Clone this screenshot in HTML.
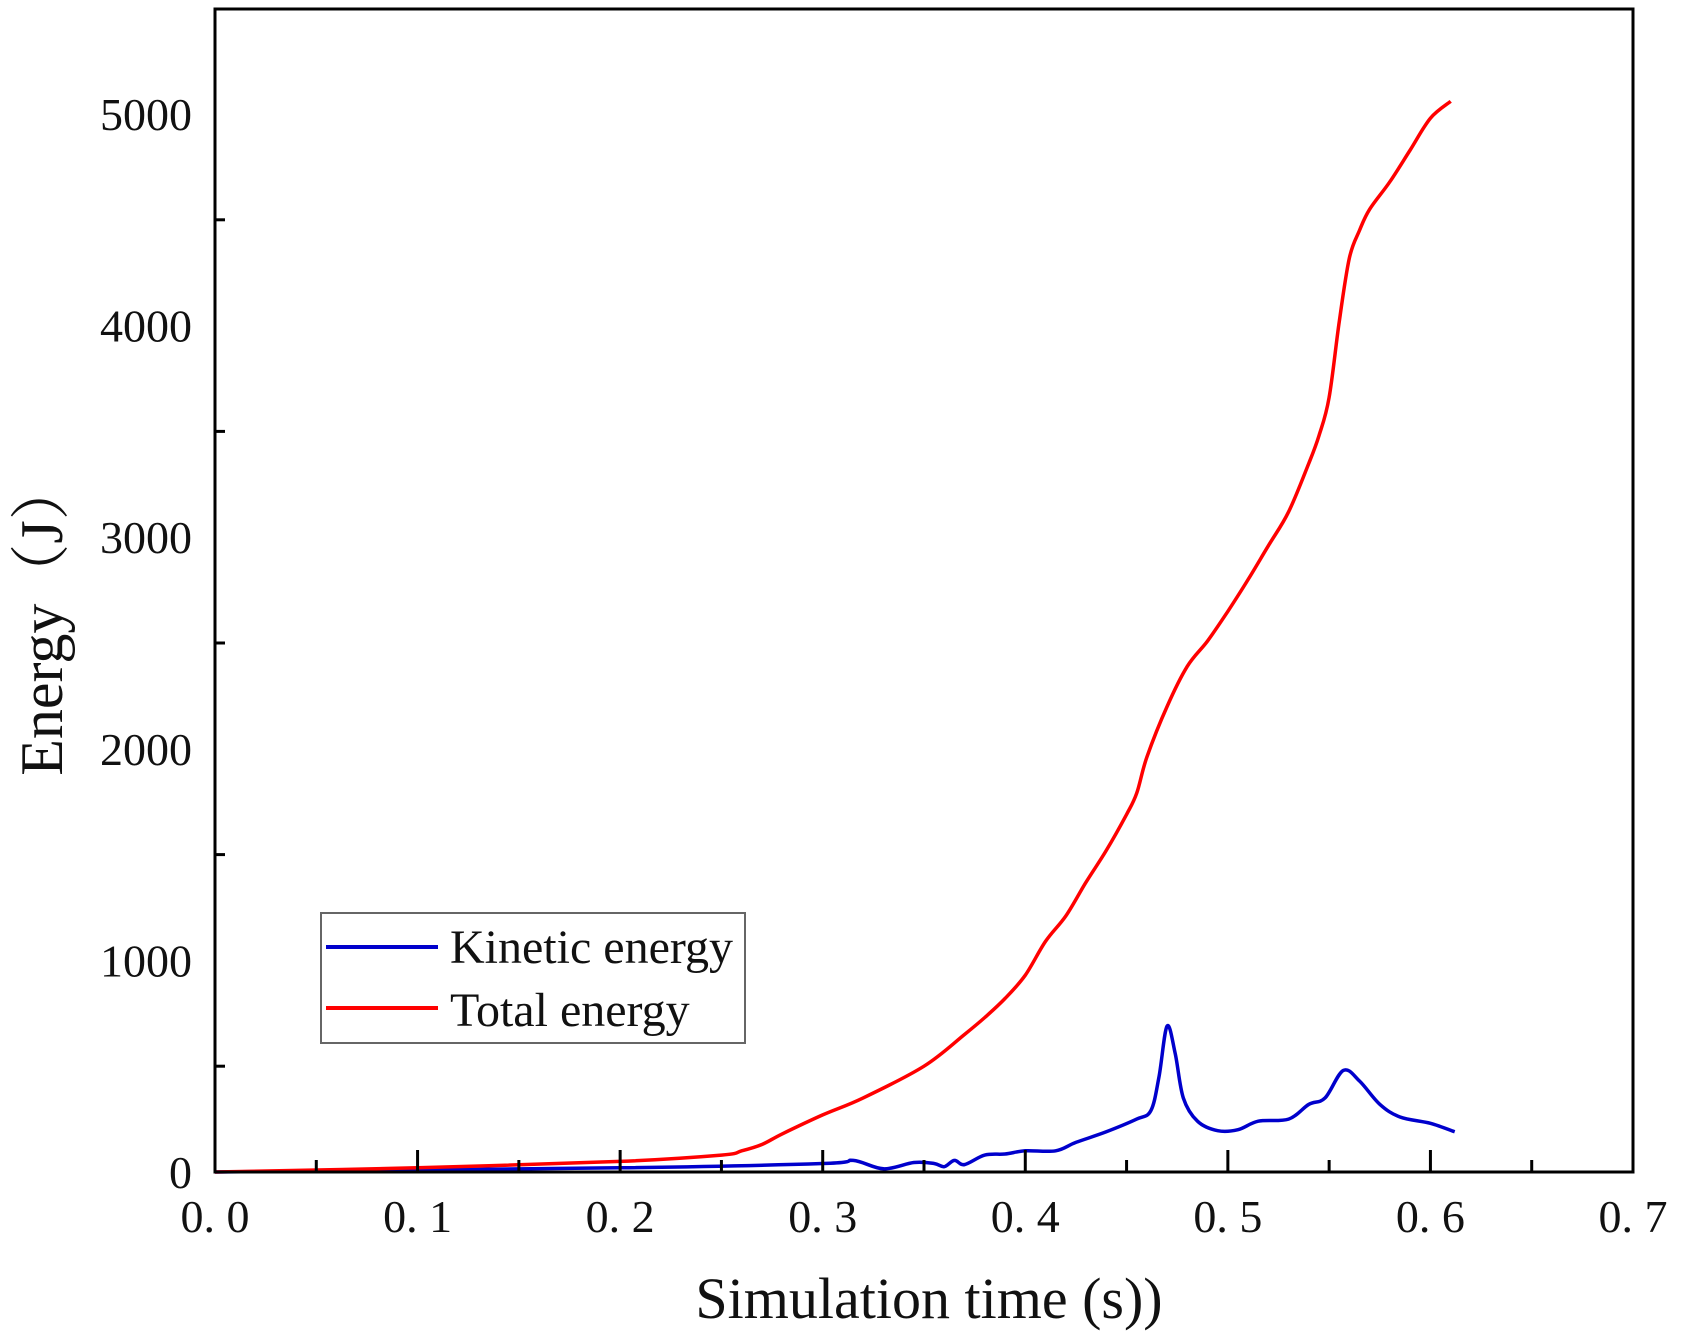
<!DOCTYPE html>
<html><head><meta charset="utf-8"><style>
html,body{margin:0;padding:0;background:#fff;}
svg{display:block;font-family:"Liberation Serif","Noto Serif CJK SC",serif;}
</style></head><body>
<svg id="chart" width="1682" height="1337" viewBox="0 0 1682 1337">
<rect x="0" y="0" width="1682" height="1337" fill="#fff"/>
<g id="marks"></g>
<g id="axes"></g>
<g>
<rect x="321" y="913" width="424" height="130" fill="#fff" stroke="#666" stroke-width="2"/>
<line x1="326" y1="947" x2="438" y2="947" stroke="#0000cc" stroke-width="4"/>
<text x="450" y="963" font-size="48" fill="#111">Kinetic energy</text>
<line x1="326" y1="1008" x2="438" y2="1008" stroke="#ff0000" stroke-width="4"/>
<text x="450" y="1026" font-size="48" fill="#111">Total energy</text>
</g>
<text x="929" y="1318" font-size="58" text-anchor="middle" fill="#111">Simulation time (s))</text>
<text transform="translate(62,618) rotate(-90)" font-size="60" text-anchor="middle" fill="#111">Energy（J）</text>
</svg>
<script>
const totalX = [0,0.1,0.2,0.25,0.26,0.27,0.28,0.3,0.32,0.35,0.37,0.38,0.39,0.4,0.41,0.42,0.43,0.44,0.45,0.455,0.46,0.47,0.48,0.49,0.5,0.51,0.52,0.53,0.54,0.545,0.55,0.555,0.56,0.565,0.57,0.58,0.59,0.6,0.61];
const totalY = [0,20,50,80,100,130,180,270,350,500,650,730,820,930,1090,1210,1370,1520,1690,1790,1960,2200,2390,2510,2650,2800,2960,3120,3350,3480,3660,4020,4320,4450,4550,4680,4830,4980,5060];
const kinX = [0,0.2,0.3,0.315,0.33,0.345,0.355,0.36,0.365,0.37,0.38,0.39,0.4,0.415,0.425,0.44,0.455,0.462,0.466,0.47,0.474,0.478,0.485,0.495,0.505,0.515,0.53,0.54,0.548,0.557,0.565,0.575,0.585,0.6,0.612];
const kinY = [0,20,40,55,15,45,40,25,55,35,80,85,100,100,140,190,250,290,450,690,560,350,240,195,200,240,250,320,350,480,430,320,260,230,190];
const xTicks = [0,0.1,0.2,0.3,0.4,0.5,0.6,0.7];
const xTickLabels = ["0. 0","0. 1","0. 2","0. 3","0. 4","0. 5","0. 6","0. 7"];
const yTicks = [0,1000,2000,3000,4000,5000];
const yTickLabels = ["0","1000","2000","3000","4000","5000"];

const X0=215, X1=1633, Y0=1172, Y5000=114;
function sx(v){return X0+(X1-X0)*v/0.7;}
function sy(v){return Y0+(Y5000-Y0)*v/5000;}
const NS="http://www.w3.org/2000/svg";
const marks=document.getElementById('marks'), axes=document.getElementById('axes');
function mk(tag,attrs,parent){const e=document.createElementNS(NS,tag);for(const k in attrs)e.setAttribute(k,attrs[k]);parent.appendChild(e);return e;}

function line(xs,ys,color,name){
  const P=xs.map((x,i)=>[sx(x),sy(ys[i])]);
  let d='M'+P[0][0].toFixed(1)+' '+P[0][1].toFixed(1);
  for(let i=0;i<P.length-1;i++){
    const p0=P[Math.max(0,i-1)],p1=P[i],p2=P[i+1],p3=P[Math.min(P.length-1,i+2)];
    const c1=[p1[0]+(p2[0]-p0[0])/6,p1[1]+(p2[1]-p0[1])/6];
    const c2=[p2[0]-(p3[0]-p1[0])/6,p2[1]-(p3[1]-p1[1])/6];
    d+=' C'+c1.map(v=>v.toFixed(1)).join(' ')+' '+c2.map(v=>v.toFixed(1)).join(' ')+' '+p2.map(v=>v.toFixed(1)).join(' ');
  }
  const p=mk('path',{d:d,fill:'none',stroke:color,'stroke-width':3.5,'stroke-linejoin':'round'},marks);
  
  
}
line(kinX,kinY,'#0000cc','kinetic-energy-line');
line(totalX,totalY,'#ff0000','total-energy-line');

const fr=mk('rect',{x:X0,y:9,width:X1-X0,height:Y0-9,fill:'none',stroke:'#000','stroke-width':3},axes);



for(let i=0;i<=14;i++){
  const v=i*0.05, x=sx(v), major=i%2===0;
  const t=mk('line',{x1:x,y1:Y0,x2:x,y2:Y0-(major?22:12),stroke:'#000','stroke-width':3},axes);
  
  
}
xTicks.forEach((v,i)=>{
  const t=mk('text',{x:sx(v),y:1232,'font-size':46,'text-anchor':'middle',fill:'#111'},axes);
  t.textContent=xTickLabels[i];
  
  
});
for(let i=0;i<=10;i++){
  const v=i*500, y=sy(v), major=i%2===0;
  const t=mk('line',{x1:X0,y1:y,x2:X0+(major?0:10),y2:y,stroke:'#000','stroke-width':3},axes);
  
  
}
yTicks.forEach((v,i)=>{
  const t=mk('text',{x:192,y:sy(v)+16,'font-size':46,'text-anchor':'end',fill:'#111'},axes);
  t.textContent=yTickLabels[i];
  
  
});
</script>
</body></html>
